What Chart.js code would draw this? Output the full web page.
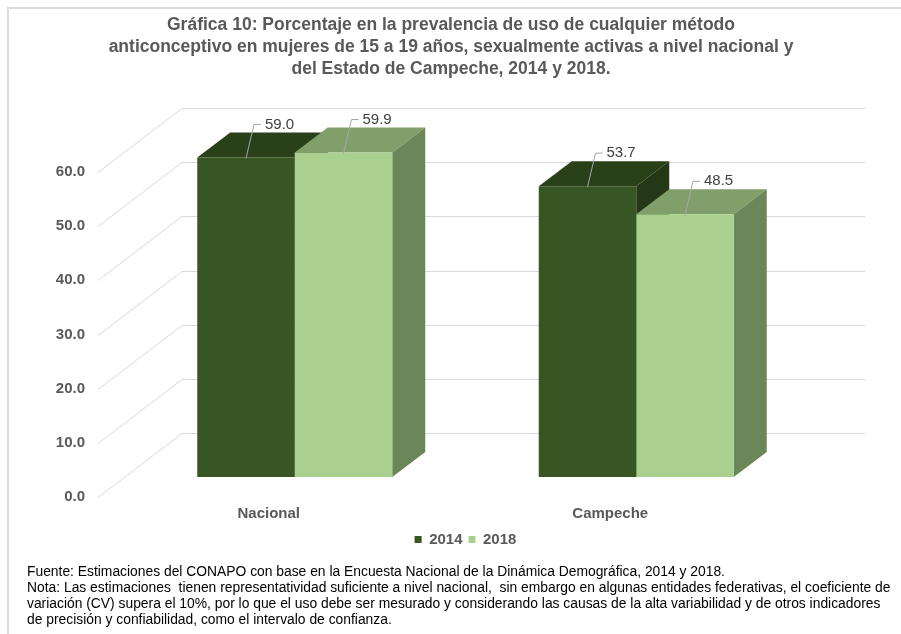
<!DOCTYPE html>
<html>
<head>
<meta charset="utf-8">
<script src="https://cdn.jsdelivr.net/npm/chart.js@4.4.1/dist/chart.umd.min.js"></script>
<style>
  html, body { margin: 0; padding: 0; background: #fff; }
  #wrap { position: relative; width: 901px; height: 634px; overflow: hidden; font-family: "Liberation Sans", Arial, sans-serif; }
  #frame { position: absolute; left: 7px; top: 7px; width: 910px; height: 650px; border-left: 2px solid #dedede; border-top: 2px solid #dedede; }
  #c { position: absolute; left: 0; top: 0; }
  #title { position: absolute; left: 0; top: 13px; width: 902px; text-align: center; font-weight: bold; font-size: 17.5px; line-height: 22px; color: #595959; }
  #notes { position: absolute; left: 27px; top: 563px; font-size: 13.85px; line-height: 16px; color: #000; white-space: pre; }
</style>
</head>
<body>
<div id="wrap">
  <div id="frame"></div>
  <canvas id="c" width="901" height="634"></canvas>
  <div id="title"></div>
  <div id="notes">Fuente: Estimaciones del CONAPO con base en la Encuesta Nacional de la Dinámica Demográfica, 2014 y 2018.
Nota: Las estimaciones  tienen representatividad suficiente a nivel nacional,  sin embargo en algunas entidades federativas, el coeficiente de
variación (CV) supera el 10%, por lo que el uso debe ser mesurado y considerando las causas de la alta variabilidad y de otros indicadores
de precisión y confiabilidad, como el intervalo de confianza.</div>
</div>
<script>
// data
const categories = ['Nacional', 'Campeche'];
const seriesNames = ['2014', '2018'];
const values2014 = [59.0, 53.7];
const values2018 = [59.9, 48.5];
const yTicks = [0, 10, 20, 30, 40, 50, 60];
const titleLines = [
  'Gráfica 10: Porcentaje en la prevalencia de uso de cualquier método',
  'anticonceptivo en mujeres de 15 a 19 años, sexualmente activas a nivel nacional y',
  'del Estado de Campeche, 2014 y 2018.'
];

// colours: front / top / side
const col2014 = ['#375623', '#2a4019', '#243716'];
const col2018 = ['#a9d08e', '#809f6b', '#6b8759'];

// fake 3d offsets (pixels, from the bar front face)
const BACK = { dx: 58, dy: -44 };
const FRONT = { dx: -26, dy: 20 };
const DEPTH = { dx: 33, dy: -25 };

document.getElementById('title').innerHTML = titleLines.join('<br>');

Chart.defaults.font.family = '"Liberation Sans", Arial, sans-serif';

function poly(ctx, pts, color) {
  ctx.beginPath();
  ctx.moveTo(pts[0][0], pts[0][1]);
  for (let i = 1; i < pts.length; i++) ctx.lineTo(pts[i][0], pts[i][1]);
  ctx.closePath();
  ctx.fillStyle = color;
  ctx.fill();
}

const box3d = {
  id: 'box3d',
  beforeDatasetsDraw(chart) {
    const ctx = chart.ctx;
    const a = chart.chartArea;
    const y = chart.scales.y;
    ctx.save();
    // back wall + side wall grid
    ctx.strokeStyle = '#d9d9d9';
    ctx.lineWidth = 1;
    yTicks.forEach(v => {
      const py = Math.round(y.getPixelForValue(v)) + 0.5;
      ctx.beginPath();
      ctx.moveTo(a.left + FRONT.dx, py + FRONT.dy);
      ctx.lineTo(a.left + BACK.dx, py + BACK.dy);
      ctx.lineTo(a.right + BACK.dx, py + BACK.dy);
      ctx.stroke();
    });
    // top and side faces, drawn behind the fronts
    for (let i = 0; i < categories.length; i++) {
      chart.data.datasets.forEach((ds, d) => {
        const bar = chart.getDatasetMeta(d).data[i];
        const l = bar.x - bar.width / 2, r = bar.x + bar.width / 2;
        const t = bar.y, b = bar.base;
        poly(ctx, [[l, t], [r, t], [r + DEPTH.dx, t + DEPTH.dy], [l + DEPTH.dx, t + DEPTH.dy]], ds.topColor);
        poly(ctx, [[r, t], [r + DEPTH.dx, t + DEPTH.dy], [r + DEPTH.dx, b + DEPTH.dy], [r, b]], ds.sideColor);
      });
    }
    ctx.restore();
  },
  afterDatasetsDraw(chart) {
    const ctx = chart.ctx;
    ctx.save();
    ctx.font = '15px "Liberation Sans", Arial, sans-serif';
    ctx.textBaseline = 'middle';
    ctx.textAlign = 'left';
    chart.data.datasets.forEach((ds, d) => {
      chart.getDatasetMeta(d).data.forEach((bar, i) => {
        const cx = bar.x, t = bar.y;
        ctx.strokeStyle = '#a6a6a6';
        ctx.lineWidth = 1;
        ctx.beginPath();
        ctx.moveTo(cx, t + 1);
        ctx.lineTo(cx + 8, t - 33);
        ctx.lineTo(cx + 15, t - 33);
        ctx.stroke();
        ctx.fillStyle = '#404040';
        ctx.fillText(ds.data[i].toFixed(1), cx + 19, t - 33);
      });
    });
    ctx.restore();
  }
};

new Chart(document.getElementById('c'), {
  type: 'bar',
  data: {
    labels: categories,
    datasets: [
      { label: seriesNames[0], data: values2014, backgroundColor: col2014[0], topColor: col2014[1], sideColor: col2014[2] },
      { label: seriesNames[1], data: values2018, backgroundColor: col2018[0], topColor: col2018[1], sideColor: col2018[2] }
    ]
  },
  options: {
    responsive: false,
    animation: false,
    layout: { padding: { left: 30, right: 94, top: 152, bottom: 77 } },
    datasets: { bar: { barPercentage: 1, categoryPercentage: 0.571 } },
    scales: {
      x: {
        grid: { display: false, drawTicks: false },
        border: { display: false },
        ticks: { labelOffset: -26, padding: 28, color: '#595959', font: { size: 15, weight: 'bold' } },
        afterFit(s) { s.height = 49; }
      },
      y: {
        min: 0,
        max: 60,
        grid: { display: false, drawTicks: false },
        border: { display: false },
        afterBuildTicks(s) { s.ticks = yTicks.map(v => ({ value: v })); },
        ticks: {
          labelOffset: 20,
          padding: 39,
          color: '#595959',
          font: { size: 15, weight: 'bold' },
          callback: v => Number(v).toFixed(1)
        },
        afterFit(s) { s.width = 94; }
      }
    },
    plugins: {
      title: { display: false },
      legend: {
        position: 'bottom',
        fullSize: false,
        labels: { boxWidth: 7, boxHeight: 7, padding: 6, color: '#595959', font: { size: 15, weight: 'bold' } }
      },
      tooltip: { enabled: false }
    }
  },
  plugins: [box3d]
});
</script>
</body>
</html>
